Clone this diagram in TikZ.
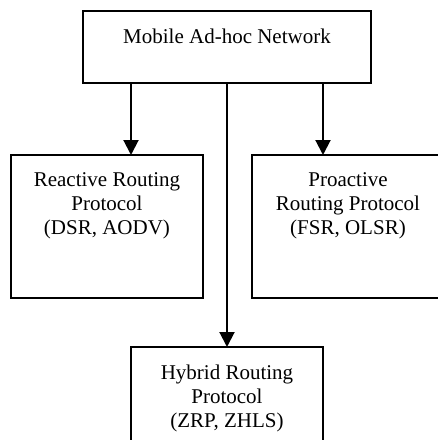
\documentclass[tikz,border=0pt]{standalone}
\usepackage{fontspec}
\setmainfont{Liberation Serif}
\usetikzlibrary{arrows.meta}
\begin{document}
\begin{tikzpicture}[x=1pt,y=-1pt,
  box/.style={draw=black, line width=2pt, rectangle, inner sep=0pt, outer sep=0pt},
  lbl/.style={anchor=north, inner sep=0pt, align=center, font=\fontsize{21}{24}\selectfont},
  arr/.style={draw=black, line width=2pt, -{Triangle[length=15pt,width=15pt]}}]
\useasboundingbox (0,0) rectangle (438,440);
\clip (0,0) rectangle (438,440);
\node[box, minimum width=288pt, minimum height=72pt] (top) at (227,47) {};
\node[box, minimum width=192pt, minimum height=143pt] (left) at (107,226.5) {};
\node[box, minimum width=192pt, minimum height=143pt] (right) at (348,226.5) {};
\node[box, minimum width=192pt, minimum height=143pt] (hyb) at (227,418.5) {};
\node[lbl] (ttop) at ([yshift=-17.7pt]top.north) {Mobile Ad-hoc Network};
\node[lbl] (tleft) at ([yshift=-17.7pt]left.north) {Reactive Routing\\Protocol\\(DSR, AODV)};
\node[lbl] (tright) at ([yshift=-17.7pt]right.north) {Proactive\\Routing Protocol\\(FSR, OLSR)};
\node[lbl] (thyb) at ([yshift=-17.7pt]hyb.north) {Hybrid Routing\\Protocol\\(ZRP, ZHLS)};
\draw[arr] ([xshift=-96pt]top.south) -- ([xshift=-96pt]top.south |- left.north);
\draw[arr] ([xshift=96pt]top.south) -- ([xshift=96pt]top.south |- right.north);
\draw[arr] (top.south) -- (hyb.north);
\end{tikzpicture}
\end{document}
